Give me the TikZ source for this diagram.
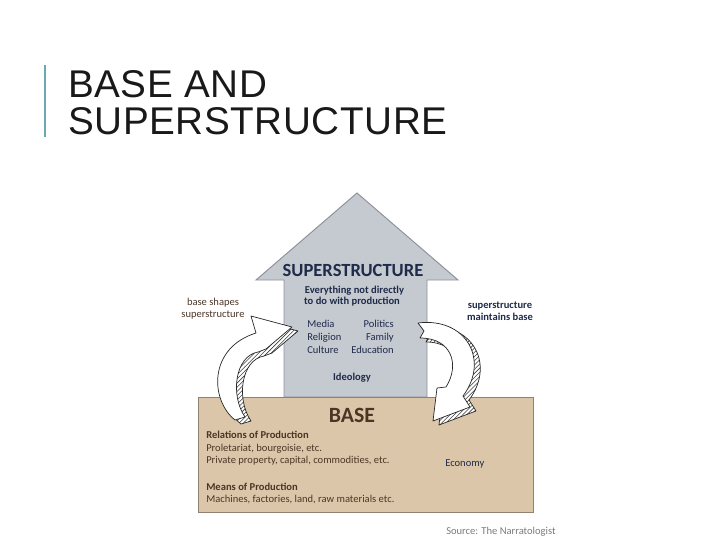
\documentclass[tikz,border=0pt]{standalone}
\usepackage{fontspec}
\setmainfont{Carlito}
\newfontfamily\titlefont[LetterSpace=1.5]{Liberation Sans}
\usetikzlibrary{patterns}

\definecolor{titlebar}{HTML}{6BA9B0}
\definecolor{housegray}{HTML}{C5C9D0}
\definecolor{houseedge}{HTML}{8E939B}
\definecolor{basetan}{HTML}{DCC6A9}
\definecolor{baseedge}{HTML}{8F8272}
\definecolor{navytext}{HTML}{1F2B4A}
\definecolor{browntext}{HTML}{4B3626}
\definecolor{sourcegray}{HTML}{7A7A7A}

\tikzset{
  house/.style={fill=housegray, draw=houseedge, line width=0.7pt},
  basebox/.style={fill=basetan, draw=baseedge, line width=0.7pt},
  navy/.style={text=navytext, inner sep=0pt},
  brown/.style={text=browntext, inner sep=0pt},
  bendarrow/.style={fill=white, draw=black!85, line width=0.5pt, line join=round},
  bendband/.style={preaction={fill=white}, pattern=north east lines,
    pattern color=black!75, draw=black!85, line width=0.5pt, line join=round},
  small/.style={font=\fontsize{7.5}{9}\selectfont},
  smallbold/.style={font=\bfseries\fontsize{7.5}{9}\selectfont}
}

% arrow outlines (pixel units)
\newcommand{\shapesarrow}{(235,420) .. controls (210,400) and (208,348) .. (256,333)
  -- (251,316) -- (292,327) -- (266,349) -- (258,352)
  .. controls (235,356) and (230,395) .. (245,417) -- cycle}
\newcommand{\maintainsarrow}{(418,323) .. controls (466,317) and (490,360) .. (463,396)
  -- (470,407) -- (433,421) -- (437,388) -- (446,387)
  .. controls (460,365) and (452,338) .. (420,338) -- (424,331) -- cycle}

\begin{document}
\begin{tikzpicture}[x=0.25mm, y=-0.25mm]
  \useasboundingbox (0,0) rectangle (720,540);

  % Titulo
  \draw[titlebar, line width=1.6pt] (45,65) -- (45,137);
  \node[anchor=base west, inner sep=0pt, text=black!90,
        font=\titlefont\fontsize{27.5}{30}\selectfont] (title1) at (68,97) {BASE AND};
  \node[anchor=base west, inner sep=0pt, text=black!90,
        font=\titlefont\fontsize{27.5}{30}\selectfont] (title2) at (68,134) {SUPERSTRUCTURE};

  % Casa y base
  \draw[house] (284,397) -- (284,280) -- (256,280) -- (357,193) -- (458,280)
               -- (427,280) -- (427,397) -- cycle;
  \node[basebox, minimum width=83.75mm, minimum height=28.75mm, inner sep=0pt]
       (base) at (365.5,454.5) {};

  % Flechas
  \draw[bendband, shift={(6,4)}] \shapesarrow;
  \draw[bendarrow] \shapesarrow;
  \draw[bendband, shift={(6,4)}] \maintainsarrow;
  \draw[bendarrow] \maintainsarrow;

  % Superestructura
  \node[navy, anchor=base, font=\bfseries\fontsize{13.2}{15}\selectfont] (supername) at (353,276) {SUPERSTRUCTURE};
  \node[navy, smallbold, anchor=base] (every1) at (354.5,293) {Everything not directly};
  \node[navy, smallbold, anchor=base] (every2) at (352,304) {to do with production};
  \node[navy, small, anchor=base west] (media) at (307,327) {Media};
  \node[navy, small, anchor=base west] (religion) at (307,340) {Religion};
  \node[navy, small, anchor=base west] (culture) at (307,353) {Culture};
  \node[navy, small, anchor=base east] (politics) at (394,327) {Politics};
  \node[navy, small, anchor=base east] (family) at (394,340) {Family};
  \node[navy, small, anchor=base east] (education) at (394,353) {Education};
  \node[navy, smallbold, anchor=base] (ideology) at (352,380) {Ideology};

  % Base
  \node[brown, anchor=base, font=\bfseries\fontsize{15.5}{18}\selectfont] (basename) at (352,422) {BASE};
  \node[brown, smallbold, anchor=base west] (relations) at (206,438) {Relations of Production};
  \node[brown, small, anchor=base west] (classes) at (206,451) {Proletariat, bourgoisie, etc.};
  \node[brown, small, anchor=base west] (property) at (206,463) {Private property, capital, commodities, etc.};
  \node[brown, smallbold, anchor=base west] (means) at (206,490) {Means of Production};
  \node[brown, small, anchor=base west] (machines) at (206,502) {Machines, factories, land, raw materials etc.};
  \node[navy, small, anchor=base west] (economy) at (445,466) {Economy};

  % Rotulos de las flechas
  \node[brown, small, anchor=base] (shapes1) at (213,305) {base shapes};
  \node[brown, small, anchor=base] (shapes2) at (213,317) {superstructure};
  \node[navy, smallbold, anchor=base] (maint1) at (500,308) {superstructure};
  \node[navy, smallbold, anchor=base] (maint2) at (500,320) {maintains base};

  \node[text=sourcegray, small, anchor=base west, inner sep=0pt] (source) at (446,534) {Source: The Narratologist};
\end{tikzpicture}
\end{document}
